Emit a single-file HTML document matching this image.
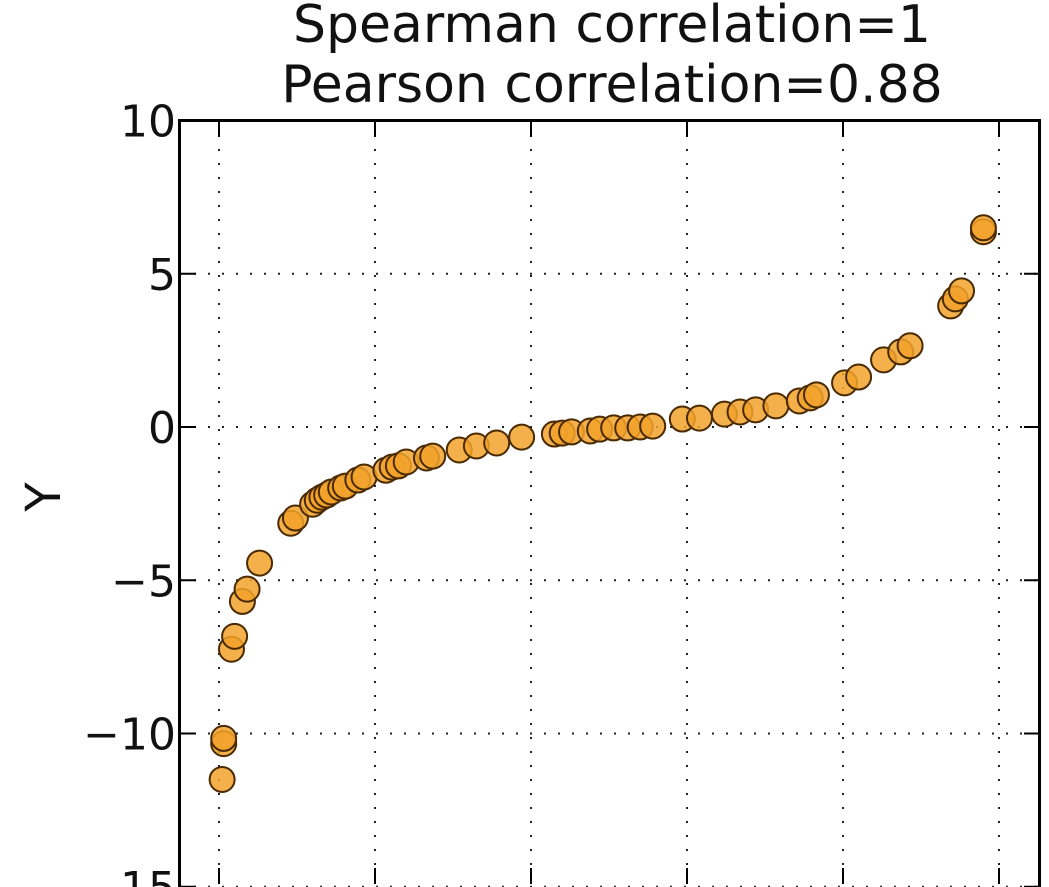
<!DOCTYPE html>
<html><head><meta charset="utf-8"><style>
html,body{margin:0;padding:0;background:#fff;}
svg{display:block;font-family:"DejaVu Sans","Liberation Sans",sans-serif;}
</style></head><body>
<svg id="chart" width="1049" height="887" viewBox="0 0 1049 887">
<text x="612" y="42" font-size="52" text-anchor="middle" fill="#111">Spearman correlation=1</text>
<text x="612" y="102" font-size="52" text-anchor="middle" fill="#111">Pearson correlation=0.88</text>
<text x="0" y="0" font-size="48" text-anchor="middle" fill="#111" transform="translate(60,497) rotate(-90)">Y</text>
<g id="grid"></g><g id="ticks"></g><g id="points"></g>
<rect x="179.5" y="120.5" width="860" height="780" fill="none" stroke="#000" stroke-width="3"/>
</svg>
<script>
const xTicks=[-2,-1,0,1,2,3];
const yTicks=[10,5,0,-5,-10,-15];
const yTickLabels=["10","5","0","\u22125","\u221210","\u221215"];
const xs=[-1.98,-1.97,-1.97,-1.92,-1.90,-1.85,-1.82,-1.74,-1.54,-1.51,-1.40,-1.37,-1.34,-1.31,-1.28,-1.22,-1.19,-1.11,-1.07,-0.93,-0.89,-0.85,-0.80,-0.67,-0.63,-0.46,-0.35,-0.22,-0.06,0.15,0.20,0.26,0.38,0.44,0.53,0.62,0.70,0.78,0.97,1.08,1.24,1.34,1.44,1.57,1.72,1.79,1.83,2.01,2.10,2.26,2.37,2.43,2.69,2.72,2.76,2.90,2.90];
const ys=[-11.5,-10.33,-10.16,-7.25,-6.83,-5.69,-5.29,-4.44,-3.14,-2.97,-2.52,-2.39,-2.29,-2.22,-2.12,-1.99,-1.93,-1.73,-1.63,-1.41,-1.31,-1.27,-1.14,-1.01,-0.95,-0.75,-0.62,-0.52,-0.33,-0.23,-0.20,-0.16,-0.13,-0.07,-0.03,-0.03,0,0.03,0.26,0.29,0.42,0.49,0.56,0.69,0.85,0.95,1.05,1.44,1.63,2.19,2.45,2.65,3.95,4.18,4.44,6.37,6.50];
const NS="http://www.w3.org/2000/svg";
function sx(x){return 219+156*(x+2);}
function sy(y){return 427-30.65*y;}
function mk(tag,attrs,parent){const e=document.createElementNS(NS,tag);for(const k in attrs)e.setAttribute(k,attrs[k]);parent.appendChild(e);return e;}
const grid=document.getElementById('grid'),ticks=document.getElementById('ticks'),pts=document.getElementById('points');
xTicks.forEach(v=>{
  const l=mk('line',{x1:sx(v),x2:sx(v),y1:121,y2:884,stroke:'#222','stroke-width':2,'stroke-dasharray':'2 12'},grid);
  
  
  const t1=mk('line',{x1:sx(v),x2:sx(v),y1:121,y2:137,stroke:'#000','stroke-width':2},ticks);
  
  
  const t2=mk('line',{x1:sx(v),x2:sx(v),y1:884,y2:868,stroke:'#000','stroke-width':2},ticks);
  
  
});
yTicks.forEach((v,i)=>{
  const l=mk('line',{x1:180,x2:1039,y1:sy(v),y2:sy(v),stroke:'#222','stroke-width':2,'stroke-dasharray':'2 12'},grid);
  
  
  const t1=mk('line',{x1:180,x2:196,y1:sy(v),y2:sy(v),stroke:'#000','stroke-width':2},ticks);
  
  
  const t2=mk('line',{x1:1024,x2:1039,y1:sy(v),y2:sy(v),stroke:'#000','stroke-width':2},ticks);
  
  
  const tx=mk('text',{x:176,y:sy(v)+16,'font-size':44,'text-anchor':'end',fill:'#111'},ticks);
  tx.textContent=yTickLabels[i];
  
  
});
xs.forEach((x,i)=>{
  const c=mk('circle',{cx:sx(x),cy:sy(ys[i]),r:12.5,fill:'#f2a22a','fill-opacity':0.85,stroke:'#4a2a00','stroke-width':2},pts);
  
  
});
</script>
</body></html>
